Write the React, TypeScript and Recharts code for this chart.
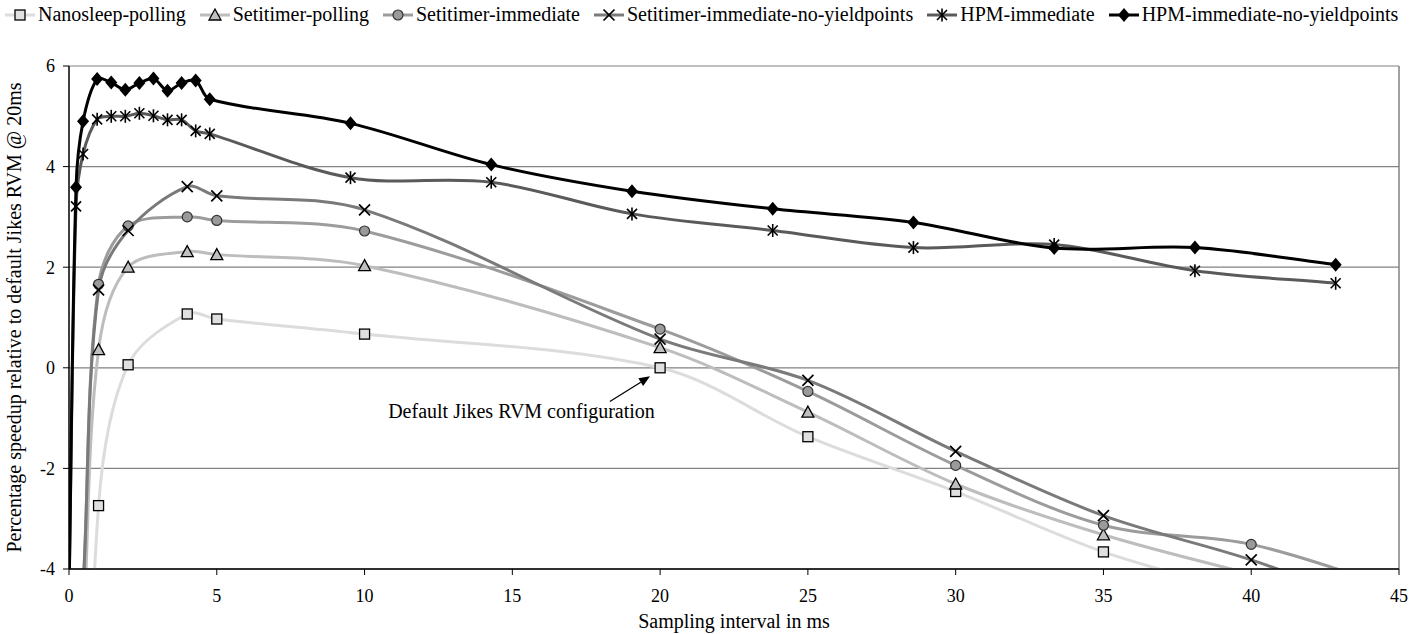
import React from 'react';
import { LineChart, Line, XAxis, YAxis, CartesianGrid, ReferenceLine } from 'recharts';

const FONT = '"Liberation Serif", "Times New Roman", serif';

// sampling intervals in ms
const setitimerIntervals = [0.5, 1, 2, 4, 5, 10, 20, 25, 30, 35, 40, 45];
const hpmIntervals = [0, 0.238, 0.476, 0.952, 1.429, 1.905, 2.381, 2.857, 3.333, 3.81, 4.286, 4.762, 9.524, 14.286, 19.048, 23.81, 28.571, 33.333, 38.095, 42.857];

// percentage speedup vs default Jikes RVM @ 20ms
const nanosleepPolling = [-12, -2.74, 0.06, 1.07, 0.97, 0.67, 0.0, -1.37, -2.46, -3.66, -4.5, -5.3];
const setitimerPolling = [-5.1, 0.36, 2.0, 2.31, 2.25, 2.03, 0.4, -0.88, -2.31, -3.32, -4.1, -4.8];
const setitimerImmediate = [-4.1, 1.66, 2.82, 3.0, 2.93, 2.72, 0.77, -0.47, -1.94, -3.13, -3.51, -4.4];
const setitimerNoYield = [-4.1, 1.55, 2.73, 3.6, 3.42, 3.14, 0.57, -0.25, -1.66, -2.94, -3.82, -4.9];
const hpmImmediate = [-4.5, 3.21, 4.25, 4.94, 5.0, 5.0, 5.06, 5.01, 4.93, 4.93, 4.71, 4.65, 3.78, 3.69, 3.06, 2.73, 2.39, 2.45, 1.93, 1.68];
const hpmNoYield = [-4.5, 3.59, 4.9, 5.74, 5.67, 5.53, 5.66, 5.75, 5.51, 5.66, 5.71, 5.34, 4.86, 4.04, 3.51, 3.16, 2.89, 2.38, 2.39, 2.05];

const xTicks = [0, 5, 10, 15, 20, 25, 30, 35, 40, 45];
const yTicks = [-4, -2, 0, 2, 4, 6];

const toPoints = (xs: number[], ys: number[]) => xs.map((x, i) => ({ x, y: ys[i] }));

// excel-ish smoothing: catmull-rom tangents, scaled by segment length so uneven spacing doesn't loop
const excelSmooth = (context: any) => {
  let pts: number[][] = [];
  const dist = (a: number[], b: number[]) => Math.hypot(b[0] - a[0], b[1] - a[1]);
  return {
    areaStart() {},
    areaEnd() {},
    lineStart() {
      pts = [];
    },
    point(x: number, y: number) {
      pts.push([+x, +y]);
    },
    lineEnd() {
      const n = pts.length;
      if (!n) return;
      context.moveTo(pts[0][0], pts[0][1]);
      for (let i = 0; i < n - 1; i++) {
        const p0 = pts[Math.max(i - 1, 0)];
        const p1 = pts[i];
        const p2 = pts[i + 1];
        const p3 = pts[Math.min(i + 2, n - 1)];
        const d01 = dist(p0, p1);
        const d12 = dist(p1, p2);
        const d23 = dist(p2, p3);
        const k1 = d12 / (d01 + d12 || 1) / 3;
        const k2 = d12 / (d12 + d23 || 1) / 3;
        context.bezierCurveTo(
          p1[0] + (p2[0] - p0[0]) * k1,
          p1[1] + (p2[1] - p0[1]) * k1,
          p2[0] - (p3[0] - p1[0]) * k2,
          p2[1] - (p3[1] - p1[1]) * k2,
          p2[0],
          p2[1]
        );
      }
    },
  };
};

const Marker = ({ kind, cx, cy }: { kind: string; cx: number; cy: number }) => {
  switch (kind) {
    case 'square':
      return <rect x={cx - 5} y={cy - 5} width={10} height={10} fill="#e0e0e0" stroke="#000" strokeWidth={1.3} />;
    case 'triangle':
      return <polygon points={`${cx},${cy - 6} ${cx - 6},${cy + 5} ${cx + 6},${cy + 5}`} fill="#c0c0c0" stroke="#000" strokeWidth={1.3} />;
    case 'circle':
      return <circle cx={cx} cy={cy} r={5} fill="#9a9a9a" stroke="#333" strokeWidth={1.2} />;
    case 'x':
      return (
        <g stroke="#000" strokeWidth={1.7}>
          <line x1={cx - 5.5} y1={cy - 5.5} x2={cx + 5.5} y2={cy + 5.5} />
          <line x1={cx - 5.5} y1={cy + 5.5} x2={cx + 5.5} y2={cy - 5.5} />
        </g>
      );
    case 'star':
      return (
        <g stroke="#000" strokeWidth={1.6}>
          <line x1={cx - 5} y1={cy - 5} x2={cx + 5} y2={cy + 5} />
          <line x1={cx - 5} y1={cy + 5} x2={cx + 5} y2={cy - 5} />
          <line x1={cx} y1={cy - 6.5} x2={cx} y2={cy + 6.5} />
        </g>
      );
    default:
      return <polygon points={`${cx},${cy - 7} ${cx + 6},${cy} ${cx},${cy + 7} ${cx - 6},${cy}`} fill="#000" />;
  }
};

const dotFor = (kind: string) => (props: any) => {
  const { cx, cy, payload, index } = props;
  if (cx == null || cy == null || payload.y < -4 || payload.y > 6) return <g key={index} />;
  return (
    <g key={index}>
      <Marker kind={kind} cx={cx} cy={cy} />
    </g>
  );
};

const series = [
  { name: 'Nanosleep-polling', data: toPoints(setitimerIntervals, nanosleepPolling), color: '#dcdcdc', kind: 'square' },
  { name: 'Setitimer-polling', data: toPoints(setitimerIntervals, setitimerPolling), color: '#bdbdbd', kind: 'triangle' },
  { name: 'Setitimer-immediate', data: toPoints(setitimerIntervals, setitimerImmediate), color: '#9c9c9c', kind: 'circle' },
  { name: 'Setitimer-immediate-no-yieldpoints', data: toPoints(setitimerIntervals, setitimerNoYield), color: '#7a7a7a', kind: 'x' },
  { name: 'HPM-immediate', data: toPoints(hpmIntervals, hpmImmediate), color: '#5a5a5a', kind: 'star' },
  { name: 'HPM-immediate-no-yieldpoints', data: toPoints(hpmIntervals, hpmNoYield), color: '#000000', kind: 'diamond' },
];

const ArrowNote = (props: any) => {
  const { x1, y1, x2, y2 } = props;
  const a = Math.atan2(y2 - y1, x2 - x1);
  const L = 11;
  const W = 4.5;
  const bx = x2 - L * Math.cos(a);
  const by = y2 - L * Math.sin(a);
  const head = `${x2},${y2} ${bx + W * Math.sin(a)},${by - W * Math.cos(a)} ${bx - W * Math.sin(a)},${by + W * Math.cos(a)}`;
  return (
    <g>
      <line x1={x1} y1={y1} x2={bx} y2={by} stroke="#000" strokeWidth={1.3} />
      <polygon points={head} fill="#000" />
      <text x={x1 + 45} y={y1 + 16} textAnchor="end" fontFamily={FONT} fontSize={20} fill="#000">
        Default Jikes RVM configuration
      </text>
    </g>
  );
};

const LegendBar = () => (
  <div
    style={{
      position: 'absolute',
      top: 3,
      left: 5,
      display: 'flex',
      alignItems: 'center',
      fontFamily: FONT,
      fontSize: 20,
      color: '#000',
      whiteSpace: 'nowrap',
    }}
  >
    {series.map((s) => (
      <div key={s.name} style={{ display: 'flex', alignItems: 'center', marginRight: 14 }}>
        <svg width={30} height={16}>
          <line x1={0} y1={8} x2={30} y2={8} stroke={s.color} strokeWidth={3} />
          <Marker kind={s.kind} cx={15} cy={8} />
        </svg>
        <span style={{ marginLeft: 3 }}>{s.name}</span>
      </div>
    ))}
  </div>
);

const SpeedupChart = () => {
  const tickStyle = { fill: '#000', fontSize: 18, fontFamily: FONT };
  const titleStyle = { fill: '#000', fontSize: 20, fontFamily: FONT };
  return (
    <div style={{ position: 'absolute', left: 0, top: 0, width: 1411, height: 634, background: '#fff' }}>
      <LineChart width={1411} height={634} margin={{ top: 66, right: 12, bottom: 0, left: 0 }}>
        <CartesianGrid vertical={false} stroke="#828282" strokeWidth={1.2} />
        <ReferenceLine x={45} stroke="#828282" strokeWidth={1.5} />
        <XAxis
          type="number"
          dataKey="x"
          domain={[0, 45]}
          ticks={xTicks}
          allowDataOverflow
          height={65}
          tickSize={6}
          tickMargin={14}
          tick={tickStyle}
          axisLine={{ stroke: '#000', strokeWidth: 1.5 }}
          tickLine={{ stroke: '#000' }}
          label={{ value: 'Sampling interval in ms', position: 'insideBottom', offset: 6, style: titleStyle }}
        />
        <YAxis
          type="number"
          domain={[-4, 6]}
          ticks={yTicks}
          allowDataOverflow
          width={69}
          tickSize={6}
          tickMargin={8}
          tick={tickStyle}
          axisLine={{ stroke: '#000', strokeWidth: 1.5 }}
          tickLine={{ stroke: '#000' }}
          label={{
            value: 'Percentage speedup relative to default Jikes RVM @ 20ms',
            angle: -90,
            position: 'insideLeft',
            offset: 14,
            style: { ...titleStyle, textAnchor: 'middle' },
          }}
        />
        {series.map((s) => (
          <Line
            key={s.name}
            data={s.data}
            dataKey="y"
            name={s.name}
            type={excelSmooth as any}
            stroke={s.color}
            strokeWidth={3}
            dot={dotFor(s.kind)}
            activeDot={false}
            isAnimationActive={false}
          />
        ))}
        <ReferenceLine
          segment={[
            { x: 18.3, y: -0.67 },
            { x: 19.66, y: -0.17 },
          ]}
          shape={ArrowNote}
        />
      </LineChart>
      <LegendBar />
    </div>
  );
};

export default function App() {
  return <SpeedupChart />;
}
